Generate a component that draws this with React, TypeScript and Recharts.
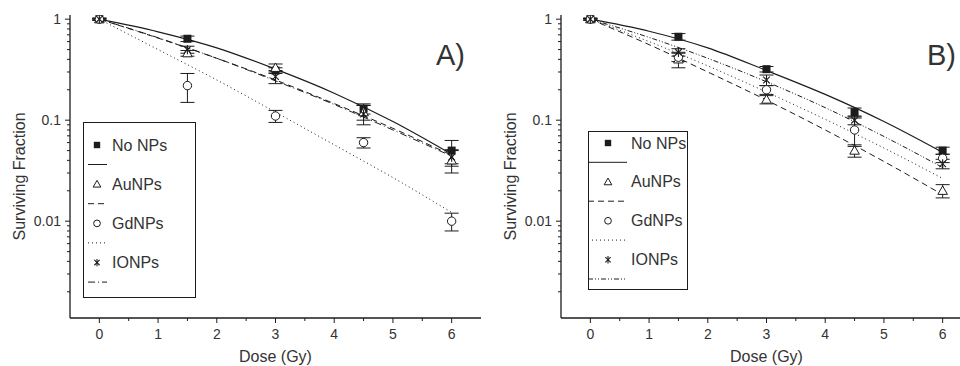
import React from "react";
import { ComposedChart, Line, Scatter, XAxis, YAxis, ErrorBar, Legend } from "recharts";

const pointDoses = [0, 1.5, 3, 4.5, 6];
const curveDoses = [0, 1, 2, 3, 4, 5, 6];

// axis ticks
const doseTicks = [0, 0.5, 1, 1.5, 2, 2.5, 3, 3.5, 4, 4.5, 5, 5.5, 6];
const doseLabels = [0, 1, 2, 3, 4, 5, 6];
const sfTicks = [
  0.002, 0.003, 0.004, 0.005, 0.006, 0.007, 0.008, 0.009,
  0.01, 0.02, 0.03, 0.04, 0.05, 0.06, 0.07, 0.08, 0.09,
  0.1, 0.2, 0.3, 0.4, 0.5, 0.6, 0.7, 0.8, 0.9, 1,
];
const sfLabels = [0.01, 0.1, 1];

const legendNames = ["No NPs", "AuNPs", "GdNPs", "IONPs"];

// panel A - measured surviving fraction and errors
const aNoNPs = [1, 0.64, 0.31, 0.13, 0.05];
const aNoNPsErr = [0.02, 0.04, 0.02, 0.015, 0.013];
const aAuNPs = [1, 0.46, 0.33, 0.12, 0.04];
const aAuNPsErr = [0.02, 0.03, 0.03, 0.02, 0.01];
const aGdNPs = [1, 0.22, 0.11, 0.06, 0.01];
const aGdNPsErr = [0.02, 0.07, 0.015, 0.007, 0.002];
const aIONPs = [1, 0.5, 0.27, 0.115, 0.043];
const aIONPsErr = [0.02, 0.04, 0.04, 0.025, 0.008];

// panel A - fitted curves
const aNoNPsFit = [1, 0.75, 0.52, 0.32, 0.185, 0.097, 0.046];
const aAuNPsFit = [1, 0.65, 0.41, 0.25, 0.146, 0.083, 0.045];
const aGdNPsFit = [1, 0.5, 0.25, 0.12, 0.057, 0.027, 0.0122];
const aIONPsFit = [1, 0.655, 0.41, 0.245, 0.143, 0.08, 0.044];

// panel B - measured
const bNoNPs = [1, 0.67, 0.32, 0.12, 0.05];
const bNoNPsErr = [0.02, 0.05, 0.02, 0.012, 0.004];
const bAuNPs = [1, 0.4, 0.16, 0.05, 0.02];
const bAuNPsErr = [0.02, 0.07, 0.015, 0.007, 0.003];
const bGdNPs = [1, 0.42, 0.2, 0.08, 0.042];
const bGdNPsErr = [0.02, 0.04, 0.02, 0.025, 0.004];
const bIONPs = [1, 0.47, 0.25, 0.1, 0.037];
const bIONPsErr = [0.02, 0.04, 0.03, 0.01, 0.004];

// panel B - fitted curves
const bNoNPsFit = [1, 0.76, 0.52, 0.31, 0.18, 0.097, 0.048];
const bAuNPsFit = [1, 0.56, 0.3, 0.158, 0.08, 0.039, 0.0183];
const bGdNPsFit = [1, 0.6, 0.345, 0.19, 0.102, 0.053, 0.0265];
const bIONPsFit = [1, 0.66, 0.41, 0.24, 0.133, 0.069, 0.034];

const INK = "#1c1c1c";
const TEXT = "#333";
const FONT = "'Liberation Sans', Arial, sans-serif";

const toPoints = (vals: number[], errs: number[]) =>
  pointDoses.map((d, i) => ({ dose: d, sf: vals[i], err: errs[i] }));
const toCurve = (vals: number[]) => curveDoses.map((d, i) => ({ dose: d, sf: vals[i] }));

const markers = ["square", "triangle", "circle", "star"];

function Marker({ kind, cx, cy, s = 1 }: { kind: string; cx: number; cy: number; s?: number }) {
  if (kind === "square") {
    const h = 4 * s;
    return <rect x={cx - h} y={cy - h} width={2 * h} height={2 * h} fill={INK} />;
  }
  if (kind === "triangle") {
    const h = 4.8 * s;
    return (
      <path
        d={`M${cx},${cy - h} L${cx + h},${cy + h * 0.75} L${cx - h},${cy + h * 0.75} Z`}
        fill="#fff"
        stroke={INK}
        strokeWidth={1}
      />
    );
  }
  if (kind === "circle") {
    return <circle cx={cx} cy={cy} r={4.2 * s} fill="#fff" stroke={INK} strokeWidth={1} />;
  }
  const r = 4.6 * s;
  const d = r * 0.72;
  return (
    <g stroke={INK} strokeWidth={1.1}>
      <line x1={cx} y1={cy - r} x2={cx} y2={cy + r} />
      <line x1={cx - d} y1={cy - d} x2={cx + d} y2={cy + d} />
      <line x1={cx - d} y1={cy + d} x2={cx + d} y2={cy - d} />
    </g>
  );
}

const XTick = (props: any) => {
  const { x, y, payload } = props;
  const major = doseLabels.includes(payload.value);
  return (
    <g>
      <line x1={x} x2={x} y1={y} y2={y + (major ? 5 : 3)} stroke={INK} />
      {major && (
        <text x={x} y={y + 16} textAnchor="middle" dominantBaseline="central" fontSize={14} fill={TEXT}>
          {payload.value}
        </text>
      )}
    </g>
  );
};

const YTick = (props: any) => {
  const { x, y, payload } = props;
  const major = sfLabels.includes(payload.value);
  return (
    <g>
      <line x1={x - (major ? 5 : 3)} x2={x} y1={y} y2={y} stroke={INK} />
      {major && (
        <text x={x - 9} y={y} textAnchor="end" dominantBaseline="central" fontSize={14} fill={TEXT}>
          {String(payload.value)}
        </text>
      )}
    </g>
  );
};

const YTitle = (props: any) => {
  const vb = props.viewBox || { x: 0, y: 15, width: 70, height: 303 };
  const cx = vb.x + 19;
  const cy = vb.y + vb.height / 2 + 10;
  return (
    <text
      x={cx}
      y={cy}
      transform={`rotate(-90 ${cx} ${cy})`}
      textAnchor="middle"
      dominantBaseline="central"
      fontSize={16}
      fill={TEXT}
    >
      Surviving Fraction
    </text>
  );
};

interface LegendCfg {
  left: number;
  top: number;
  w: number;
  h: number;
  markerX: number;
  textX: number;
  firstY: number;
  step: number;
  lineGap: number;
  lineX1: number;
  lineX2: number;
}

function makeLegend(cfg: LegendCfg, dashes: (string | undefined)[]) {
  return () => (
    <svg width={cfg.w} height={cfg.h} style={{ display: "block", fontFamily: FONT }}>
      <rect x={0.5} y={0.5} width={cfg.w - 1} height={cfg.h - 1} fill="#fff" stroke={INK} strokeWidth={1} />
      {legendNames.map((name, i) => {
        const ty = cfg.firstY + i * cfg.step;
        const ly = ty + cfg.lineGap;
        return (
          <g key={name}>
            <Marker kind={markers[i]} cx={cfg.markerX} cy={ty} s={0.8} />
            <text x={cfg.textX} y={ty} dominantBaseline="central" fontSize={16} fill={TEXT}>
              {name}
            </text>
            <line x1={cfg.lineX1} x2={cfg.lineX2} y1={ly} y2={ly} stroke={INK} strokeWidth={1} strokeDasharray={dashes[i]} />
          </g>
        );
      })}
    </svg>
  );
}

interface PanelProps {
  tag: string;
  left: number;
  points: { dose: number; sf: number; err: number }[][];
  fits: { dose: number; sf: number }[][];
  dashes: (string | undefined)[];
  legend: LegendCfg;
}

function Panel({ tag, left, points, fits, dashes, legend }: PanelProps) {
  const LegendContent = makeLegend(legend, dashes);
  return (
    <div style={{ position: "absolute", left, top: 0, width: 490, height: 366 }}>
      <ComposedChart width={490} height={366} margin={{ top: 15, right: 9, bottom: 0, left: 0 }}>
        <XAxis
          dataKey="dose"
          type="number"
          domain={[-0.5, 6.5]}
          allowDataOverflow
          ticks={doseTicks}
          interval={0}
          tickSize={0}
          tickMargin={0}
          tickLine={false}
          axisLine={{ stroke: INK, strokeWidth: 1.3 }}
          tick={<XTick />}
          height={48}
          label={{ value: "Dose (Gy)", position: "insideBottom", offset: 4, fontSize: 16, fill: TEXT }}
        />
        <YAxis
          type="number"
          scale="log"
          domain={[0.0011, 1.1]}
          allowDataOverflow
          ticks={sfTicks}
          interval={0}
          width={70}
          tickSize={0}
          tickMargin={0}
          tickLine={false}
          axisLine={{ stroke: INK, strokeWidth: 1.3 }}
          tick={<YTick />}
          label={<YTitle />}
        />
        {fits.map((f, i) => (
          <Line
            key={"fit" + i}
            data={f}
            dataKey="sf"
            type="monotone"
            stroke={INK}
            strokeWidth={i === 0 ? 1.2 : 1}
            strokeDasharray={dashes[i]}
            dot={false}
            activeDot={false}
            legendType="none"
            isAnimationActive={false}
          />
        ))}
        {points.map((p, i) => (
          <Scatter
            key={"pts" + i}
            data={p}
            dataKey="sf"
            name={legendNames[i]}
            isAnimationActive={false}
            shape={(sp: any) => <Marker kind={markers[i]} cx={sp.cx} cy={sp.cy} />}
          >
            <ErrorBar dataKey="err" direction="y" width={7} stroke={INK} strokeWidth={1} />
          </Scatter>
        ))}
        <Legend
          layout="vertical"
          align="center"
          verticalAlign="middle"
          width={legend.w}
          height={legend.h}
          wrapperStyle={{ left: legend.left, top: legend.top, width: legend.w, height: legend.h }}
          content={<LegendContent />}
        />
      </ComposedChart>
      <svg
        width={490}
        height={366}
        style={{ position: "absolute", left: 0, top: 0, pointerEvents: "none", fontFamily: FONT }}
      >
        <text x={436} y={65} fontSize={29} fill={TEXT}>
          {tag}
        </text>
      </svg>
    </div>
  );
}

const dashesA = [undefined, "6 4", "1 3", "7 3 1 3"];
const dashesB = [undefined, "6 4", "1 3", "5 2 1 2 1 2"];

export default function App() {
  return (
    <div
      style={{
        position: "absolute",
        left: 0,
        top: 0,
        width: 960,
        height: 366,
        overflow: "hidden",
        background: "#fff",
        fontFamily: FONT,
      }}
    >
      <Panel
        tag="A)"
        left={0}
        points={[
          toPoints(aNoNPs, aNoNPsErr),
          toPoints(aAuNPs, aAuNPsErr),
          toPoints(aGdNPs, aGdNPsErr),
          toPoints(aIONPs, aIONPsErr),
        ]}
        fits={[toCurve(aNoNPsFit), toCurve(aAuNPsFit), toCurve(aGdNPsFit), toCurve(aIONPsFit)]}
        dashes={dashesA}
        legend={{
          left: 83, top: 122, w: 113, h: 176,
          markerX: 14, textX: 29, firstY: 23, step: 39.2, lineGap: 19.5, lineX1: 5, lineX2: 24,
        }}
      />
      <Panel
        tag="B)"
        left={491}
        points={[
          toPoints(bNoNPs, bNoNPsErr),
          toPoints(bAuNPs, bAuNPsErr),
          toPoints(bGdNPs, bGdNPsErr),
          toPoints(bIONPs, bIONPsErr),
        ]}
        fits={[toCurve(bNoNPsFit), toCurve(bAuNPsFit), toCurve(bGdNPsFit), toCurve(bIONPsFit)]}
        dashes={dashesB}
        legend={{
          left: 97, top: 131, w: 100, h: 159,
          markerX: 20, textX: 43, firstY: 12, step: 38.9, lineGap: 19.3, lineX1: 0, lineX2: 39,
        }}
      />
    </div>
  );
}
